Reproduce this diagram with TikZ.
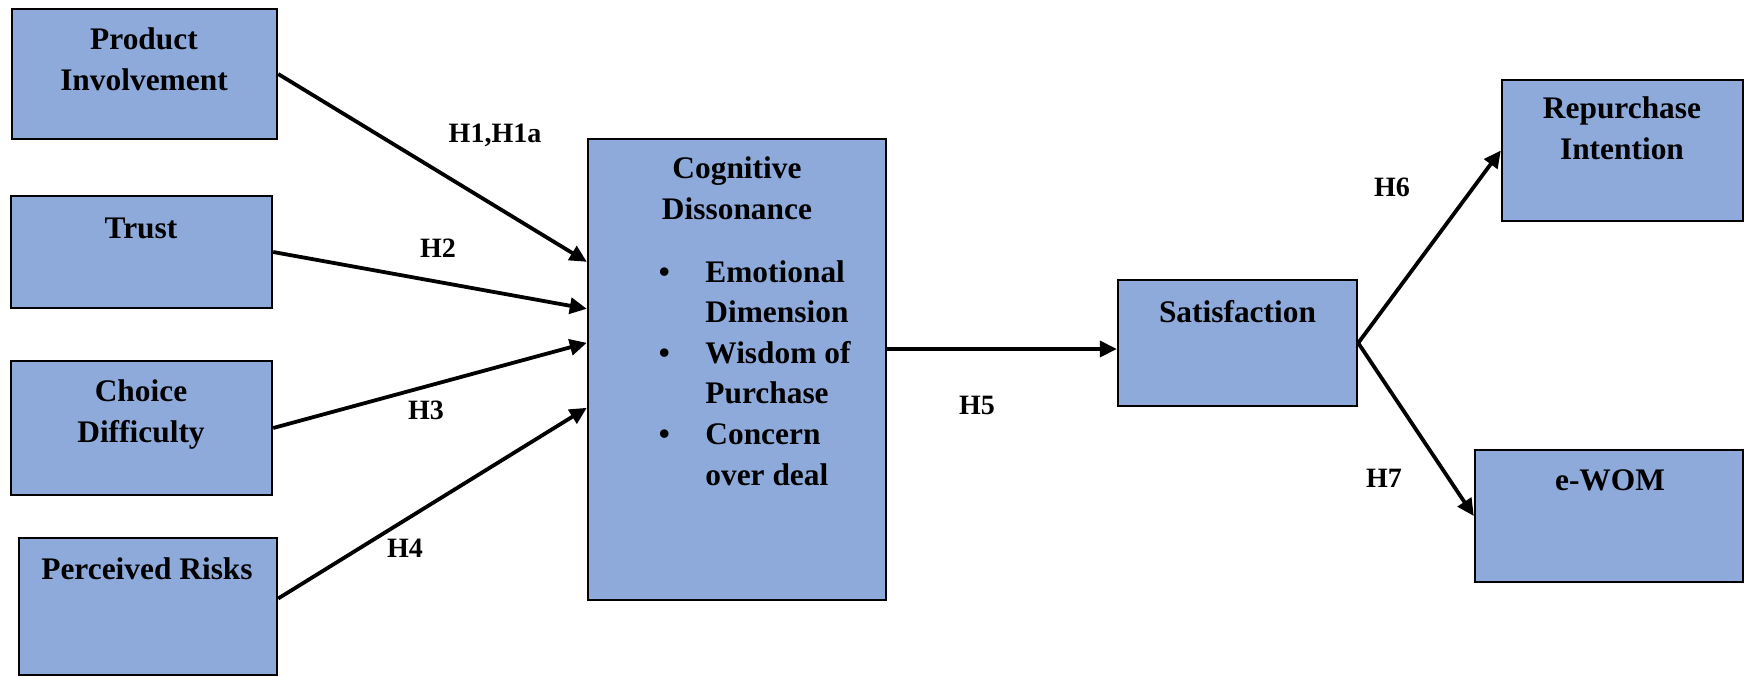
\documentclass[tikz,border=0pt]{standalone}
\usepackage{fontspec}
\setmainfont{Liberation Serif}
\usetikzlibrary{arrows.meta,calc}
\definecolor{boxblue}{HTML}{8EAADB}
\begin{document}
\begin{tikzpicture}[x=0.5pt,y=-0.5pt,
  box/.style={draw=black, line width=1.2pt, fill=boxblue, inner sep=0pt},
  boxtext/.style={font=\bfseries\fontsize{15.7}{20.3}\selectfont, align=center, inner sep=0pt, anchor=base},
  hyp/.style={font=\bfseries\fontsize{14}{16}\selectfont, inner sep=0pt},
  link/.style={line width=1.9pt, -{Triangle[length=8.5pt,width=8pt]}}]
\useasboundingbox (0,0) rectangle (1746,676);

% antecedent constructs
\node[box, minimum width=132.5pt, minimum height=65pt] (pi) at (144.5,74) {};
\node[box, minimum width=130.5pt, minimum height=56pt] (tr) at (141.5,252) {};
\node[box, minimum width=130.5pt, minimum height=67pt] (ch) at (141.5,428) {};
\node[box, minimum width=129pt, minimum height=68.5pt] (pr) at (148,606.5) {};

% mediator and outcomes
\node[box, minimum width=149pt, minimum height=230.5pt] (cog) at (737,369.5) {};
\node[box, minimum width=119.5pt, minimum height=63pt] (sat) at (1237.5,343) {};
\node[box, minimum width=120.5pt, minimum height=70.5pt] (rep) at (1622.5,150.5) {};
\node[box, minimum width=134pt, minimum height=66pt] (ew) at (1609,516) {};

% box captions (multi-line captions sit on their last baseline)
\node[boxtext] (pit) at (144,90) {Product\\Involvement};
\node[boxtext] (trt) at (141,238) {Trust};
\node[boxtext] (cht) at (141,442) {Choice\\Difficulty};
\node[boxtext] (prt) at (147,579) {Perceived Risks};
\node[boxtext] (cogt) at (737,219) {Cognitive\\Dissonance};
\node[boxtext, anchor=base west, align=left] (cogl) at (705,485)
  {\llap{\makebox[41pt][c]{•}}Emotional\\Dimension\\
   \llap{\makebox[41pt][c]{•}}Wisdom of\\Purchase\\
   \llap{\makebox[41pt][c]{•}}Concern\\over deal};
\node[boxtext] (satt) at (1237.5,322) {Satisfaction};
\node[boxtext] (rept) at (1622,159) {Repurchase\\Intention};
\node[boxtext] (ewt) at (1610,490) {e-WOM};

% paths
\draw[link] (pi.east) -- ($(cog.north west)+(0,124)$);
\draw[link] (tr.east) -- ($(cog.north west)+(0,171)$);
\draw[link] (ch.east) -- ($(cog.north west)+(0,205)$);
\draw[link] ($(pr.east)+(0,-8)$) -- ($(cog.north west)+(0,270)$);
\coordinate (satin) at ($(sat.west)+(0,6)$);
\draw[link] (cog.east |- satin) -- (satin);
\draw[link] (sat.east) -- (rep.west);
\draw[link] (sat.east) -- (ew.west);

% hypothesis labels
\node[hyp] (h1) at (495,135) {H1,H1a};
\node[hyp] (h2) at (438,248) {H2};
\node[hyp] (h3) at (426,410) {H3};
\node[hyp] (h4) at (405,548) {H4};
\node[hyp] (h5) at (977,405) {H5};
\node[hyp] (h6) at (1392,187) {H6};
\node[hyp] (h7) at (1384,478) {H7};
\end{tikzpicture}
\end{document}
